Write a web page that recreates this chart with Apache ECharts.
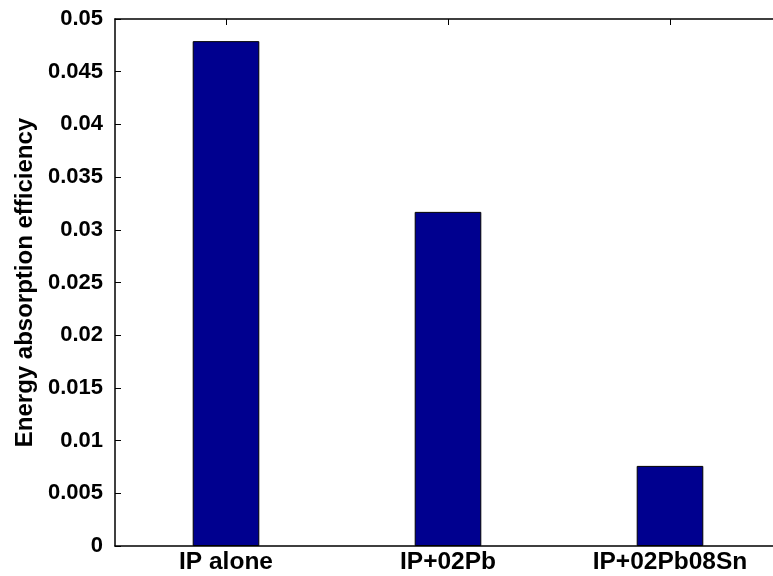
<!DOCTYPE html>
<html>
<head>
<meta charset="utf-8">
<script src="https://cdn.jsdelivr.net/npm/echarts@6/dist/echarts.min.js"></script>
<style>
html,body{margin:0;padding:0;background:#fff;overflow:hidden;width:773px;height:576px;}
#main{width:800px;height:576px;}
</style>
</head>
<body>
<div id="main"></div>
<script>
const categories = ['IP alone', 'IP+02Pb', 'IP+02Pb08Sn'];
const values = [0.0479, 0.0317, 0.0076];
const yTicks = { min: 0, max: 0.05, interval: 0.005 };
const yName = 'Energy absorption efficiency';

const chart = echarts.init(document.getElementById('main'));
const font = 'Liberation Sans, Arial, Helvetica, sans-serif';
chart.setOption({
  animation: false,
  backgroundColor: '#ffffff',
  grid: { left: 115, top: 19, width: 666, height: 527, containLabel: false },
  xAxis: [{
    type: 'category',
    data: categories,
    position: 'bottom',
    axisLine: { lineStyle: { color: '#000', width: 1.5 } },
    axisTick: { show: true, inside: true, alignWithLabel: true, length: 6, lineStyle: { color: '#000' } },
    axisLabel: { color: '#000', fontFamily: font, fontWeight: 'bold', fontSize: 24.5, margin: 4 },
    splitLine: { show: false }
  }, {
    type: 'category',
    data: categories,
    position: 'top',
    axisLine: { lineStyle: { color: '#000', width: 1.5 } },
    axisTick: { show: true, inside: true, alignWithLabel: true, length: 6, lineStyle: { color: '#000' } },
    axisLabel: { show: false },
    splitLine: { show: false }
  }],
  yAxis: {
    type: 'value',
    min: yTicks.min, max: yTicks.max, interval: yTicks.interval,
    name: yName,
    nameLocation: 'middle',
    nameGap: 78,
    nameTextStyle: { color: '#000', fontFamily: font, fontWeight: 'bold', fontSize: 24 },
    axisLine: { show: true, lineStyle: { color: '#000', width: 1.5 } },
    axisTick: { show: true, inside: true, length: 6, lineStyle: { color: '#000' } },
    axisLabel: { color: '#000', fontFamily: font, fontWeight: 'bold', fontSize: 22, margin: 12,
      formatter: function (v) { return v === 0 ? '0' : String(+v.toFixed(3)); } },
    splitLine: { show: false }
  },
  series: [{
    type: 'bar',
    data: values,
    barWidth: '30%',
    itemStyle: { color: '#00008F', borderColor: '#000', borderWidth: 1 }
  }]
});
</script>
</body>
</html>
